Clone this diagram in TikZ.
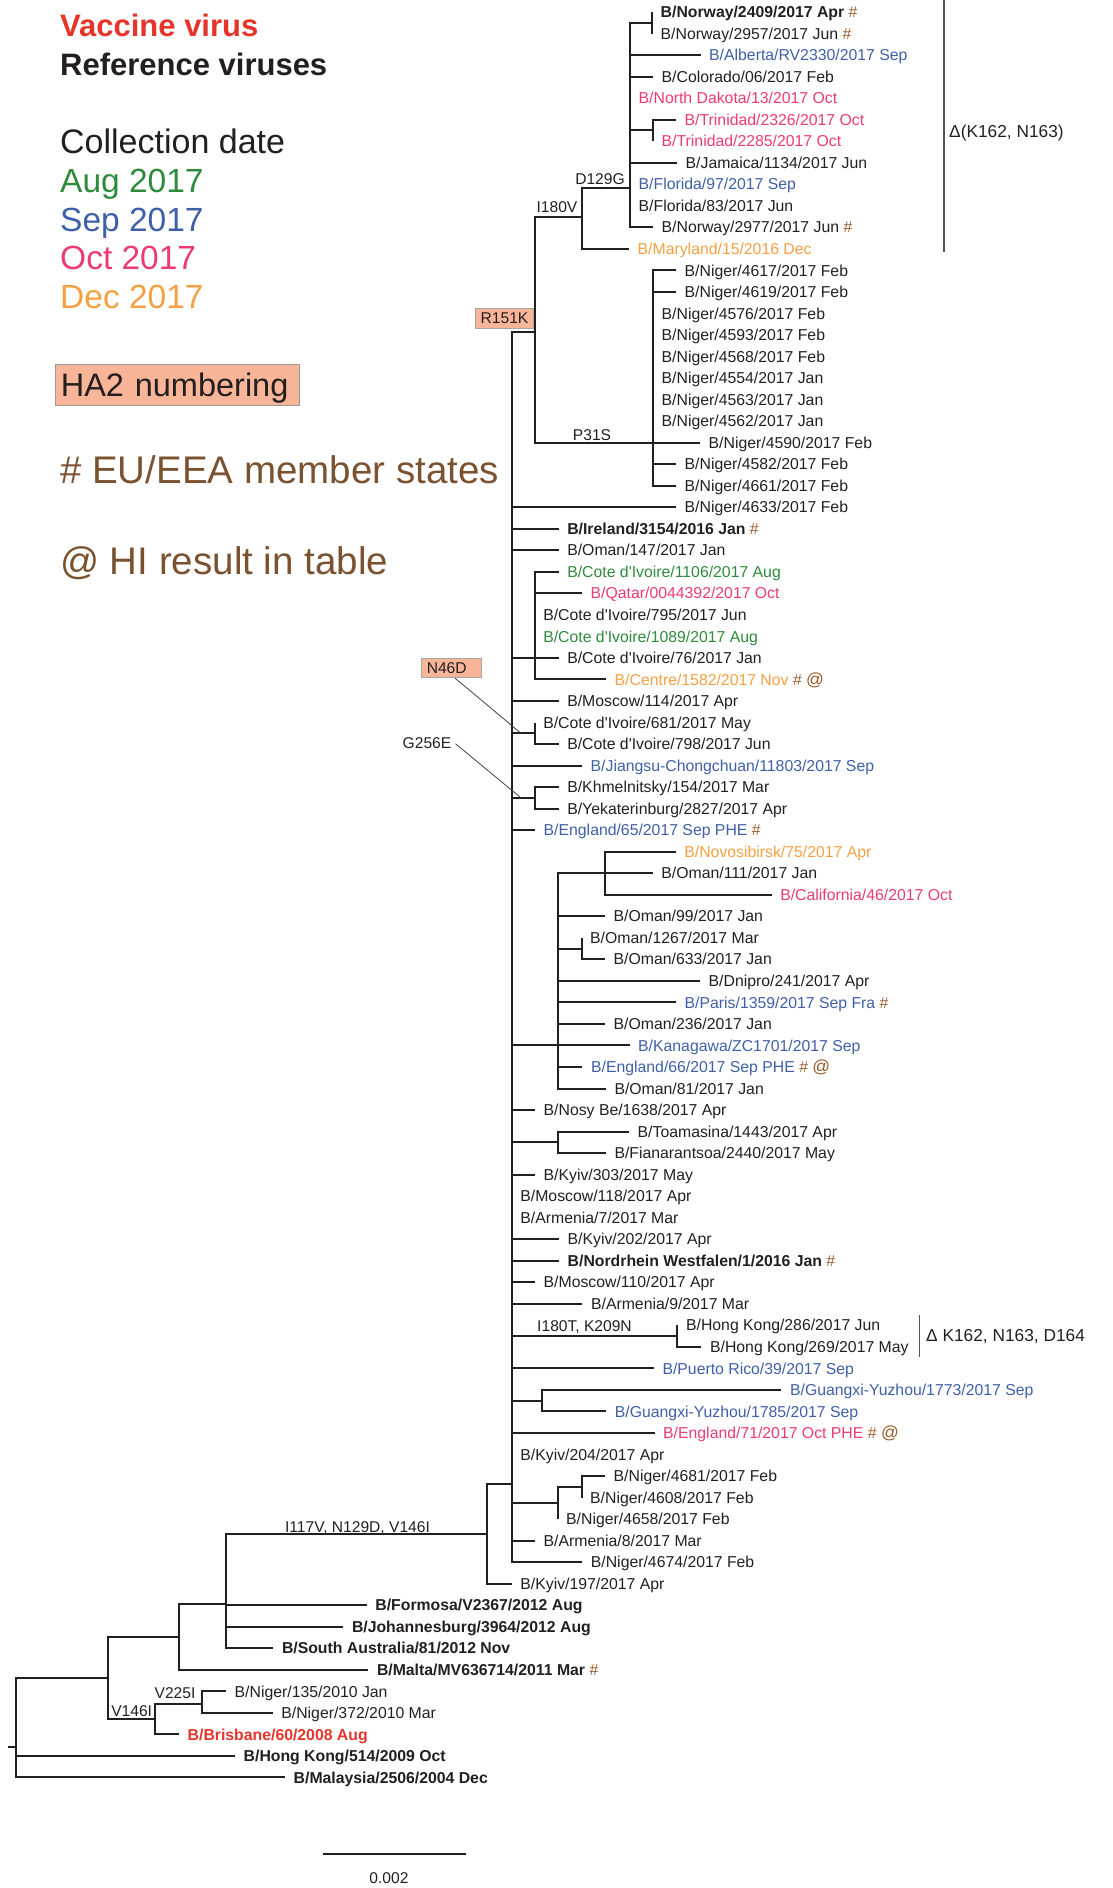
\documentclass[tikz,border=0pt]{standalone}
\usepackage{fontspec}
\setmainfont{Liberation Sans}
\usepackage{tikz}
\pgfmathdeclarefunction{rw}{1}{\pgfmathparse{12+(#1-1)*21.53}}
\definecolor{cblack}{HTML}{231F20}
\definecolor{cblue}{HTML}{3F5FA8}
\definecolor{cpink}{HTML}{EC3B73}
\definecolor{cgreen}{HTML}{2E8B3C}
\definecolor{corange}{HTML}{F5A142}
\definecolor{cred}{HTML}{E5352B}
\definecolor{cbrown}{HTML}{9A5A2B}
\definecolor{lbrown}{HTML}{7A5230}
\definecolor{salmon}{HTML}{F9B597}
\definecolor{bgray}{HTML}{555555}
\newcommand{\hsh}{\textcolor{cbrown}{\mdseries\#}}
\newcommand{\atm}{\textcolor{cbrown}{\mdseries\fontsize{17.5pt}{18pt}\selectfont @}}
\newcommand{\tleaf}[6]{%
  \coordinate (t#1) at (#3,{rw(#4)});
  \draw[br] (#2) |- (t#1);
  \node[lab,#5] (l#1) at ([xshift=8.5pt]t#1) {#6};}
\tikzset{
  br/.style={draw=cblack, line width=2pt},
  lab/.style={anchor=west, inner sep=0pt, font=\fontsize{15.8pt}{18pt}\selectfont, text height=11.3pt, text depth=0pt, text=cblack},
  lbold/.style={font=\fontsize{15.8pt}{18pt}\selectfont\bfseries},
  lblue/.style={text=cblue}, lpink/.style={text=cpink}, lgreen/.style={text=cgreen},
  lorange/.style={text=corange}, lred/.style={text=cred},
  mut/.style={inner sep=0pt, font=\fontsize{15.6pt}{18pt}\selectfont, text height=11.2pt, text depth=0pt, text=cblack},
  mbox/.style={mut, fill=salmon, draw=gray!70, line width=0.8pt},
  ptr/.style={draw=cblack!85, line width=0.8pt},
  brk/.style={draw=bgray, line width=1.1pt},
  blab/.style={anchor=west, inner sep=0pt, font=\fontsize{17.3pt}{20pt}\selectfont, text height=12.4pt, text depth=0pt, text=cblack},
  leg/.style={anchor=base west, inner sep=0pt},
}
\begin{document}
\begin{tikzpicture}[x=1pt,y=-1pt]
\useasboundingbox (0,0) rectangle (1112,1888);
% ---------- legend ----------
\node[leg, text=cred, font=\fontsize{31pt}{36pt}\selectfont\bfseries] (lg1) at (60,36.1) {Vaccine virus};
\node[leg, text=cblack, font=\fontsize{31pt}{36pt}\selectfont\bfseries] (lg2) at (60,75.5) {Reference viruses};
\node[leg, text=cblack, font=\fontsize{34pt}{36pt}\selectfont] (lg3) at (60,153.5) {Collection date};
\node[leg, text=cgreen, font=\fontsize{33.5pt}{36pt}\selectfont] (lg4) at (60,192.4) {Aug 2017};
\node[leg, text=cblue, font=\fontsize{33.5pt}{36pt}\selectfont] (lg5) at (60,231.2) {Sep 2017};
\node[leg, text=cpink, font=\fontsize{33.5pt}{36pt}\selectfont] (lg6) at (60,269.5) {Oct 2017};
\node[leg, text=corange, font=\fontsize{33.5pt}{36pt}\selectfont] (lg7) at (60,308.4) {Dec 2017};
\node[draw=gray!80, fill=salmon, line width=1pt, anchor=north west, inner ysep=0pt, inner xsep=5.3pt,
      text width=233pt, align=left, minimum height=41pt, text height=23pt, text depth=0pt,
      font=\fontsize{32.5pt}{36pt}\selectfont, text=cblack] (lg8) at (55,363.5) {HA2 numbering};
\node[leg, text=lbrown, font=\fontsize{38.5pt}{42pt}\selectfont] (lg9) at (60,483.8) {\# EU/EEA member states};
\node[leg, text=lbrown, font=\fontsize{38.5pt}{42pt}\selectfont] (lg10) at (60,574.4) {@ HI result in table};
% ---------- internal nodes ----------
\coordinate (rootend) at (8.3,1747.3);
\coordinate (nRoot) at (16,1747.3);
\coordinate (nV146) at (107.7,1678.3);
\coordinate (nMa) at (179,1637.3);
\coordinate (nFJ) at (226,1604);
\coordinate (nI117) at (486.7,1534);
\coordinate (nBB) at (511.7,1484);
\coordinate (nR151) at (535,331.7);
\coordinate (nI180) at (582.4,216.7);
\coordinate (nD129) at (630,188);
\coordinate (nNor) at (652,22.8);
\coordinate (nTri) at (653,130.4);
\coordinate (nP31) at (653,{rw(21)});
\coordinate (nCI) at (534.6,{rw(31)});
\coordinate (nCI2) at (534.6,733.3);
\coordinate (nKY) at (534.6,797.9);
\coordinate (nOm) at (557.5,{rw(49)});
\coordinate (nNOC) at (605,{rw(41)});
\coordinate (nOm2) at (581.5,948.6);
\coordinate (nTF) at (558,1142.4);
\coordinate (nHK) at (677.4,1336);
\coordinate (nGX) at (541.7,1400.7);
\coordinate (nNi3) at (557.5,1502.7);
\coordinate (nNi4) at (581.5,1486.8);
\coordinate (nB) at (155,1719.3);
\coordinate (nV225) at (202.3,1704);
% ---------- internal branches ----------
\draw[br] (rootend) -- (nRoot);
\draw[br] (nRoot) |- (nV146);
\draw[br] (nV146) |- (nMa);
\draw[br] (nV146) |- (nB);
\draw[br] (nB) |- (nV225);
\draw[br] (nMa) |- (nFJ);
\draw[br] (nFJ) |- (nI117);
\draw[br] (nI117) |- (nBB);
\draw[br] (nBB) |- (nR151);
\draw[br] (nR151) |- (nI180);
\draw[br] (nR151) |- (nP31);
\draw[br] (nI180) |- (nD129);
\draw[br] (nD129) |- (nNor);
\draw[br] (nD129) |- (nTri);
\draw[br] (nBB) |- (nCI);
\draw[br] (nBB) |- (nCI2);
\draw[br] (nBB) |- (nKY);
\draw[br] (nBB) |- (nOm);
\draw[br] (nOm) |- (nNOC);
\draw[br] (nOm) |- (nOm2);
\draw[br] (nBB) |- (nTF);
\draw[br] (nBB) |- (nHK);
\draw[br] (nBB) |- (nGX);
\draw[br] (nBB) |- (nNi3);
\draw[br] (nNi3) |- (nNi4);
% ---------- leaves ----------
\tleaf{1}{nNor}{652}{1}{lbold}{B/Norway/2409/2017 Apr \hsh}
\tleaf{2}{nNor}{652}{2}{}{B/Norway/2957/2017 Jun \hsh}
\tleaf{3}{nD129}{700.5}{3}{lblue}{B/Alberta/RV2330/2017 Sep}
\tleaf{4}{nD129}{653}{4}{}{B/Colorado/06/2017 Feb}
\tleaf{5}{nD129}{630}{5}{lpink}{B/North Dakota/13/2017 Oct}
\tleaf{6}{nTri}{676}{6}{lpink}{B/Trinidad/2326/2017 Oct}
\tleaf{7}{nTri}{653}{7}{lpink}{B/Trinidad/2285/2017 Oct}
\tleaf{8}{nD129}{677}{8}{}{B/Jamaica/1134/2017 Jun}
\tleaf{9}{nD129}{630}{9}{lblue}{B/Florida/97/2017 Sep}
\tleaf{10}{nD129}{630}{10}{}{B/Florida/83/2017 Jun}
\tleaf{11}{nD129}{653}{11}{}{B/Norway/2977/2017 Jun \hsh}
\tleaf{12}{nI180}{629}{12}{lorange}{B/Maryland/15/2016 Dec}
\tleaf{13}{nP31}{676}{13}{}{B/Niger/4617/2017 Feb}
\tleaf{14}{nP31}{676}{14}{}{B/Niger/4619/2017 Feb}
\tleaf{15}{nP31}{653}{15}{}{B/Niger/4576/2017 Feb}
\tleaf{16}{nP31}{653}{16}{}{B/Niger/4593/2017 Feb}
\tleaf{17}{nP31}{653}{17}{}{B/Niger/4568/2017 Feb}
\tleaf{18}{nP31}{653}{18}{}{B/Niger/4554/2017 Jan}
\tleaf{19}{nP31}{653}{19}{}{B/Niger/4563/2017 Jan}
\tleaf{20}{nP31}{653}{20}{}{B/Niger/4562/2017 Jan}
\tleaf{21}{nP31}{700}{21}{}{B/Niger/4590/2017 Feb}
\tleaf{22}{nP31}{676}{22}{}{B/Niger/4582/2017 Feb}
\tleaf{23}{nP31}{676}{23}{}{B/Niger/4661/2017 Feb}
\tleaf{24}{nBB}{676}{24}{}{B/Niger/4633/2017 Feb}
\tleaf{25}{nBB}{558.6}{25}{lbold}{B/Ireland/3154/2016 Jan \hsh}
\tleaf{26}{nBB}{558.6}{26}{}{B/Oman/147/2017 Jan}
\tleaf{27}{nCI}{558.6}{27}{lgreen}{B/Cote d\textquotesingle Ivoire/1106/2017 Aug}
\tleaf{28}{nCI}{582}{28}{lpink}{B/Qatar/0044392/2017 Oct}
\tleaf{29}{nCI}{534.6}{29}{}{B/Cote d\textquotesingle Ivoire/795/2017 Jun}
\tleaf{30}{nCI}{534.6}{30}{lgreen}{B/Cote d\textquotesingle Ivoire/1089/2017 Aug}
\tleaf{31}{nCI}{558.6}{31}{}{B/Cote d\textquotesingle Ivoire/76/2017 Jan}
\tleaf{32}{nCI}{606}{32}{lorange}{B/Centre/1582/2017 Nov \hsh{} \atm}
\tleaf{33}{nBB}{558.6}{33}{}{B/Moscow/114/2017 Apr}
\tleaf{34}{nCI2}{534.6}{34}{}{B/Cote d\textquotesingle Ivoire/681/2017 May}
\tleaf{35}{nCI2}{558.6}{35}{}{B/Cote d\textquotesingle Ivoire/798/2017 Jun}
\tleaf{36}{nBB}{582}{36}{lblue}{B/Jiangsu-Chongchuan/11803/2017 Sep}
\tleaf{37}{nKY}{558.6}{37}{}{B/Khmelnitsky/154/2017 Mar}
\tleaf{38}{nKY}{558.6}{38}{}{B/Yekaterinburg/2827/2017 Apr}
\tleaf{39}{nBB}{535}{39}{lblue}{B/England/65/2017 Sep PHE \hsh}
\tleaf{40}{nNOC}{675.7}{40}{lorange}{B/Novosibirsk/75/2017 Apr}
\tleaf{41}{nNOC}{652.7}{41}{}{B/Oman/111/2017 Jan}
\tleaf{42}{nNOC}{771.6}{42}{lpink}{B/California/46/2017 Oct}
\tleaf{43}{nOm}{605}{43}{}{B/Oman/99/2017 Jan}
\tleaf{44}{nOm2}{581.5}{44}{}{B/Oman/1267/2017 Mar}
\tleaf{45}{nOm2}{605}{45}{}{B/Oman/633/2017 Jan}
\tleaf{46}{nOm}{700}{46}{}{B/Dnipro/241/2017 Apr}
\tleaf{47}{nOm}{676}{47}{lblue}{B/Paris/1359/2017 Sep Fra \hsh}
\tleaf{48}{nOm}{605}{48}{}{B/Oman/236/2017 Jan}
\tleaf{49}{nOm}{629.5}{49}{lblue}{B/Kanagawa/ZC1701/2017 Sep}
\tleaf{50}{nOm}{582.4}{50}{lblue}{B/England/66/2017 Sep PHE \hsh{} \atm}
\tleaf{51}{nOm}{605.8}{51}{}{B/Oman/81/2017 Jan}
\tleaf{52}{nBB}{535}{52}{}{B/Nosy Be/1638/2017 Apr}
\tleaf{53}{nTF}{629}{53}{}{B/Toamasina/1443/2017 Apr}
\tleaf{54}{nTF}{605.8}{54}{}{B/Fianarantsoa/2440/2017 May}
\tleaf{55}{nBB}{535}{55}{}{B/Kyiv/303/2017 May}
\tleaf{56}{nBB}{511.7}{56}{}{B/Moscow/118/2017 Apr}
\tleaf{57}{nBB}{511.7}{57}{}{B/Armenia/7/2017 Mar}
\tleaf{58}{nBB}{559}{58}{}{B/Kyiv/202/2017 Apr}
\tleaf{59}{nBB}{559}{59}{lbold}{B/Nordrhein Westfalen/1/2016 Jan \hsh}
\tleaf{60}{nBB}{535}{60}{}{B/Moscow/110/2017 Apr}
\tleaf{61}{nBB}{582.4}{61}{}{B/Armenia/9/2017 Mar}
\tleaf{62}{nHK}{677.4}{62}{}{B/Hong Kong/286/2017 Jun}
\tleaf{63}{nHK}{701.4}{63}{}{B/Hong Kong/269/2017 May}
\tleaf{64}{nBB}{653.8}{64}{lblue}{B/Puerto Rico/39/2017 Sep}
\tleaf{65}{nGX}{781.4}{65}{lblue}{B/Guangxi-Yuzhou/1773/2017 Sep}
\tleaf{66}{nGX}{606.2}{66}{lblue}{B/Guangxi-Yuzhou/1785/2017 Sep}
\tleaf{67}{nBB}{654.5}{67}{lpink}{B/England/71/2017 Oct PHE \hsh{} \atm}
\tleaf{68}{nBB}{511.7}{68}{}{B/Kyiv/204/2017 Apr}
\tleaf{69}{nNi4}{605}{69}{}{B/Niger/4681/2017 Feb}
\tleaf{70}{nNi4}{581.5}{70}{}{B/Niger/4608/2017 Feb}
\tleaf{71}{nNi3}{557.5}{71}{}{B/Niger/4658/2017 Feb}
\tleaf{72}{nBB}{535}{72}{}{B/Armenia/8/2017 Mar}
\tleaf{73}{nBB}{582.2}{73}{}{B/Niger/4674/2017 Feb}
\tleaf{74}{nI117}{511.7}{74}{}{B/Kyiv/197/2017 Apr}
\tleaf{75}{nFJ}{366.7}{75}{lbold}{B/Formosa/V2367/2012 Aug}
\tleaf{76}{nFJ}{343.3}{76}{lbold}{B/Johannesburg/3964/2012 Aug}
\tleaf{77}{nFJ}{273.3}{77}{lbold}{B/South Australia/81/2012 Nov}
\tleaf{78}{nMa}{368.3}{78}{lbold}{B/Malta/MV636714/2011 Mar \hsh}
\tleaf{79}{nV225}{226}{79}{}{B/Niger/135/2010 Jan}
\tleaf{80}{nV225}{272.7}{80}{}{B/Niger/372/2010 Mar}
\tleaf{81}{nB}{179}{81}{lbold,lred}{B/Brisbane/60/2008 Aug}
\tleaf{82}{nRoot}{235}{82}{lbold}{B/Hong Kong/514/2009 Oct}
\tleaf{83}{nRoot}{285}{83}{lbold}{B/Malaysia/2506/2004 Dec}
% ---------- mutation labels ----------
\node[mut] (mD129) at (600,179) {D129G};
\node[mut] (mI180V) at (557,206.7) {I180V};
\node[mut] (mP31) at (592,435) {P31S};
\node[mbox, minimum width=58pt, minimum height=20pt] (mR151) at (504.5,318) {R151K};
\node[mbox, text width=49.3pt, inner xsep=5pt, align=left, minimum height=19.4pt] (mN46) at (451.4,668) {N46D};
\node[mut] (mG256) at (427,742.7) {G256E};
\node[mut] (mI180T) at (584.5,1326) {I180T, K209N};
\node[mut] (mI117) at (357.5,1526.7) {I117V, N129D, V146I};
\node[mut] (mV146) at (131.7,1710.7) {V146I};
\node[mut] (mV225) at (175,1693.3) {V225I};
\coordinate (pN46b) at (521,733.3);
\coordinate (pG256b) at (521,797.9);
\draw[ptr] ([xshift=3.6pt]mN46.south) -- (pN46b);
\draw[ptr] ([xshift=4pt,yshift=-1pt]mG256.east) -- (pG256b);
% ---------- brackets ----------
\coordinate (brA1) at (944,0);
\coordinate (brA2) at (944,252.3);
\draw[brk] (brA1) -- (brA2);
\node[blab] (dA) at (949,131) {Δ(K162, N163)};
\coordinate (brB1) at (919.5,1315);
\coordinate (brB2) at (919.5,1356.7);
\draw[brk] (brB1) -- (brB2);
\node[blab] (dB) at (926,1335) {Δ K162, N163, D164};
% ---------- scale bar ----------
\coordinate (sb1) at (322.7,1854.3);
\coordinate (sb2) at (465.7,1854.3);
\draw[br] (sb1) -- (sb2);
\node[mut] (sbl) at (389,1878) {0.002};
\end{tikzpicture}
\end{document}
